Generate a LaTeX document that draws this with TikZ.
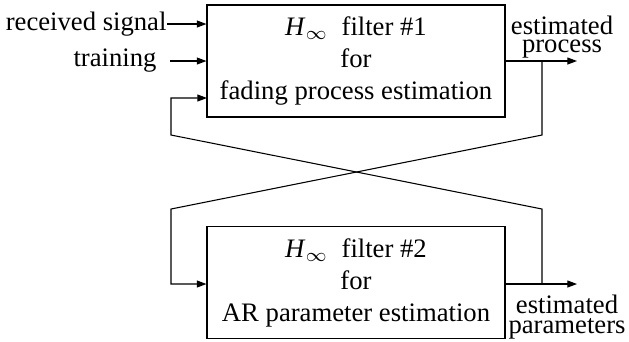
\documentclass[tikz,border=0pt]{standalone}
\usepackage{fontspec}
\setmainfont{Liberation Serif}
\usetikzlibrary{arrows.meta}
\begin{document}
\begin{tikzpicture}[x=0.375pt,y=-0.375pt,line width=0.4pt,
  every node/.style={font=\fontsize{10}{12}\selectfont},
  filterbox/.style={draw,minimum width=111.75pt,minimum height=42pt,align=center,inner sep=0pt},
  inlabel/.style={anchor=east,inner sep=0pt},
  outlabel/.style={align=center,inner sep=0pt,font={\fontsize{10}{1}\selectfont\lineskip=1.8pt\relax}},
  arr/.style={-{Triangle[length=3.6pt,width=2.6pt]}}]
\useasboundingbox (0,0) rectangle (629,341);
\node[filterbox] (f1) at (356,61) {\textit{H}$_\infty$~~filter \#1\\for\\fading process estimation};
\node[filterbox] (f2) at (356,282.5) {\textit{H}$_\infty$~~filter \#2\\for\\AR parameter estimation};
\node[inlabel] (rs) at (167,24) {received signal};
\node[inlabel] (tr) at (157,61) {training};
\node[outlabel] (ep) at (562,37) {estimated\\process};
\node[outlabel] (epar) at (567,317) {estimated\\parameters};
\coordinate (tr0) at (170,61);
\coordinate (fb) at (207,98);
\coordinate (o1) at (577,61);
\coordinate (o2) at (577,284);
\coordinate (c1) at (542,135);
\coordinate (c2) at (171,135);
\coordinate (c3) at (171,209);
\coordinate (c4) at (542,209);
\draw[arr] (rs.east) -- (rs.east -| f1.west);
\draw[arr] (tr0) -- (tr0 -| f1.west);
\draw[arr] (f1.east) -- (o1);
\draw[arr] (f2.east |- o2) -- (o2);
\draw[arr] (f1.east -| c1) -- (c1) -- (c3) |- (f2.west |- o2);
\draw[arr] (o2 -| c4) -- (c4) -- (c2) |- (fb);
\end{tikzpicture}
\end{document}
